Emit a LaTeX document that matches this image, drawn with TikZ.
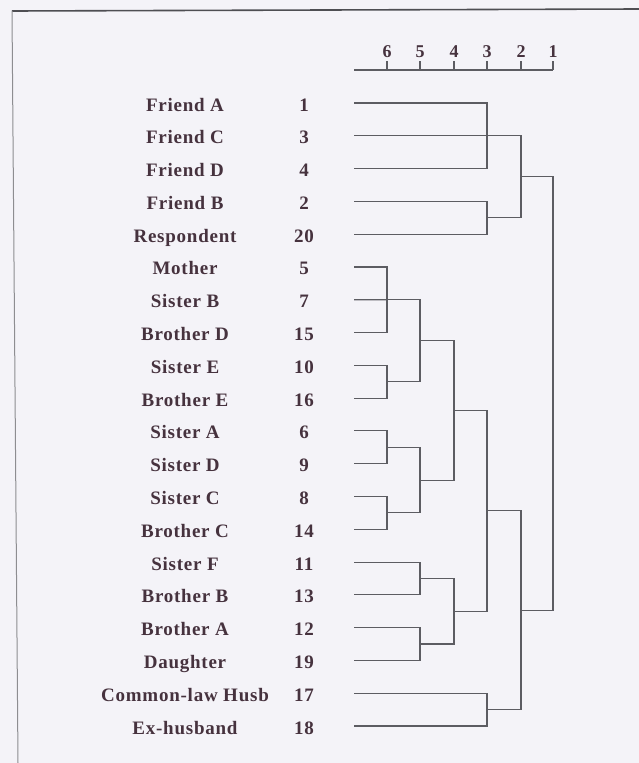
\documentclass[tikz,border=0pt]{standalone}
\usepackage{fontspec}
\setmainfont{Liberation Serif}
\usepackage{tikz}
\usetikzlibrary{calc}
\definecolor{paper}{RGB}{244,243,248}
\definecolor{ink}{RGB}{70,50,62}
\definecolor{wire}{RGB}{92,92,98}
\newcommand{\joinat}[4]{%
 \draw[ln] (#1) -- (#1 -| #3) -- (#2 -| #3) -- (#2);
 \coordinate (#4) at ($(#1 -| #3)!.5!(#2 -| #3)$);}

\begin{document}
\begin{tikzpicture}[x=1pt,y=-1pt,
 lbl/.style={font=\fontsize{19}{22}\selectfont\bfseries\addfontfeature{LetterSpace=4},text=ink,anchor=base,inner sep=0pt},
 axnum/.style={font=\fontsize{18}{21}\selectfont\bfseries,text=ink,anchor=base,inner sep=0pt},
 ln/.style={draw=wire,line width=1.1pt}]
 \fill[paper] (0,0) rectangle (639,763);
 \useasboundingbox (0,0) rectangle (639,763);
 \draw[wire!85!black,line width=1.6pt] (12,11)--(639,9);
 \draw[wire!70,line width=1pt] (12,11)--(18,763);
 \foreach \v/\x in {6/387,5/420,4/454,3/487,2/521,1/553}{
  \coordinate (L\v) at (\x,70);
  \draw[ln] (L\v) -- ++(0,-9);
  \node[axnum] (a\v) at ($(L\v)+(0,-13)$) {\v};
 }
 \draw[ln] (354,70) -- (L1);
 \foreach \nm/\no [count=\i] in {Friend A/1,Friend C/3,Friend D/4,Friend B/2,Respondent/20,
   Mother/5,Sister B/7,Brother D/15,Sister E/10,Brother E/16,Sister A/6,Sister D/9,
   Sister C/8,Brother C/14,Sister F/11,Brother B/13,Brother A/12,Daughter/19,
   Common-law Husb/17,Ex-husband/18}{
  \pgfmathsetmacro\y{103+32.79*(\i-1)}
  \node[lbl] (name\i) at (185,\y+8) {\nm};
  \node[lbl] (num\i) at (304,\y+8) {\no};
  \coordinate (s\i) at (354,\y);
 }
 \joinat{s1}{s3}{L3}{m13}
 \draw[ln] (s2) -- (m13);
 \joinat{s4}{s5}{L3}{m45}
 \joinat{m13}{m45}{L2}{top}
 \joinat{s6}{s8}{L6}{m68}
 \draw[ln] (s7) -- (m68);
 \joinat{s9}{s10}{L6}{m910}
 \joinat{m68}{m910}{L5}{g1}
 \joinat{s11}{s12}{L6}{m1112}
 \joinat{s13}{s14}{L6}{m1314}
 \joinat{m1112}{m1314}{L5}{g2}
 \joinat{g1}{g2}{L4}{g3}
 \joinat{s15}{s16}{L5}{m1516}
 \joinat{s17}{s18}{L5}{m1718}
 \joinat{m1516}{m1718}{L4}{g4}
 \joinat{g3}{g4}{L3}{g5}
 \joinat{s19}{s20}{L3}{m1920}
 \joinat{g5}{m1920}{L2}{g6}
 \joinat{top}{g6}{L1}{root}
\end{tikzpicture}
\end{document}
